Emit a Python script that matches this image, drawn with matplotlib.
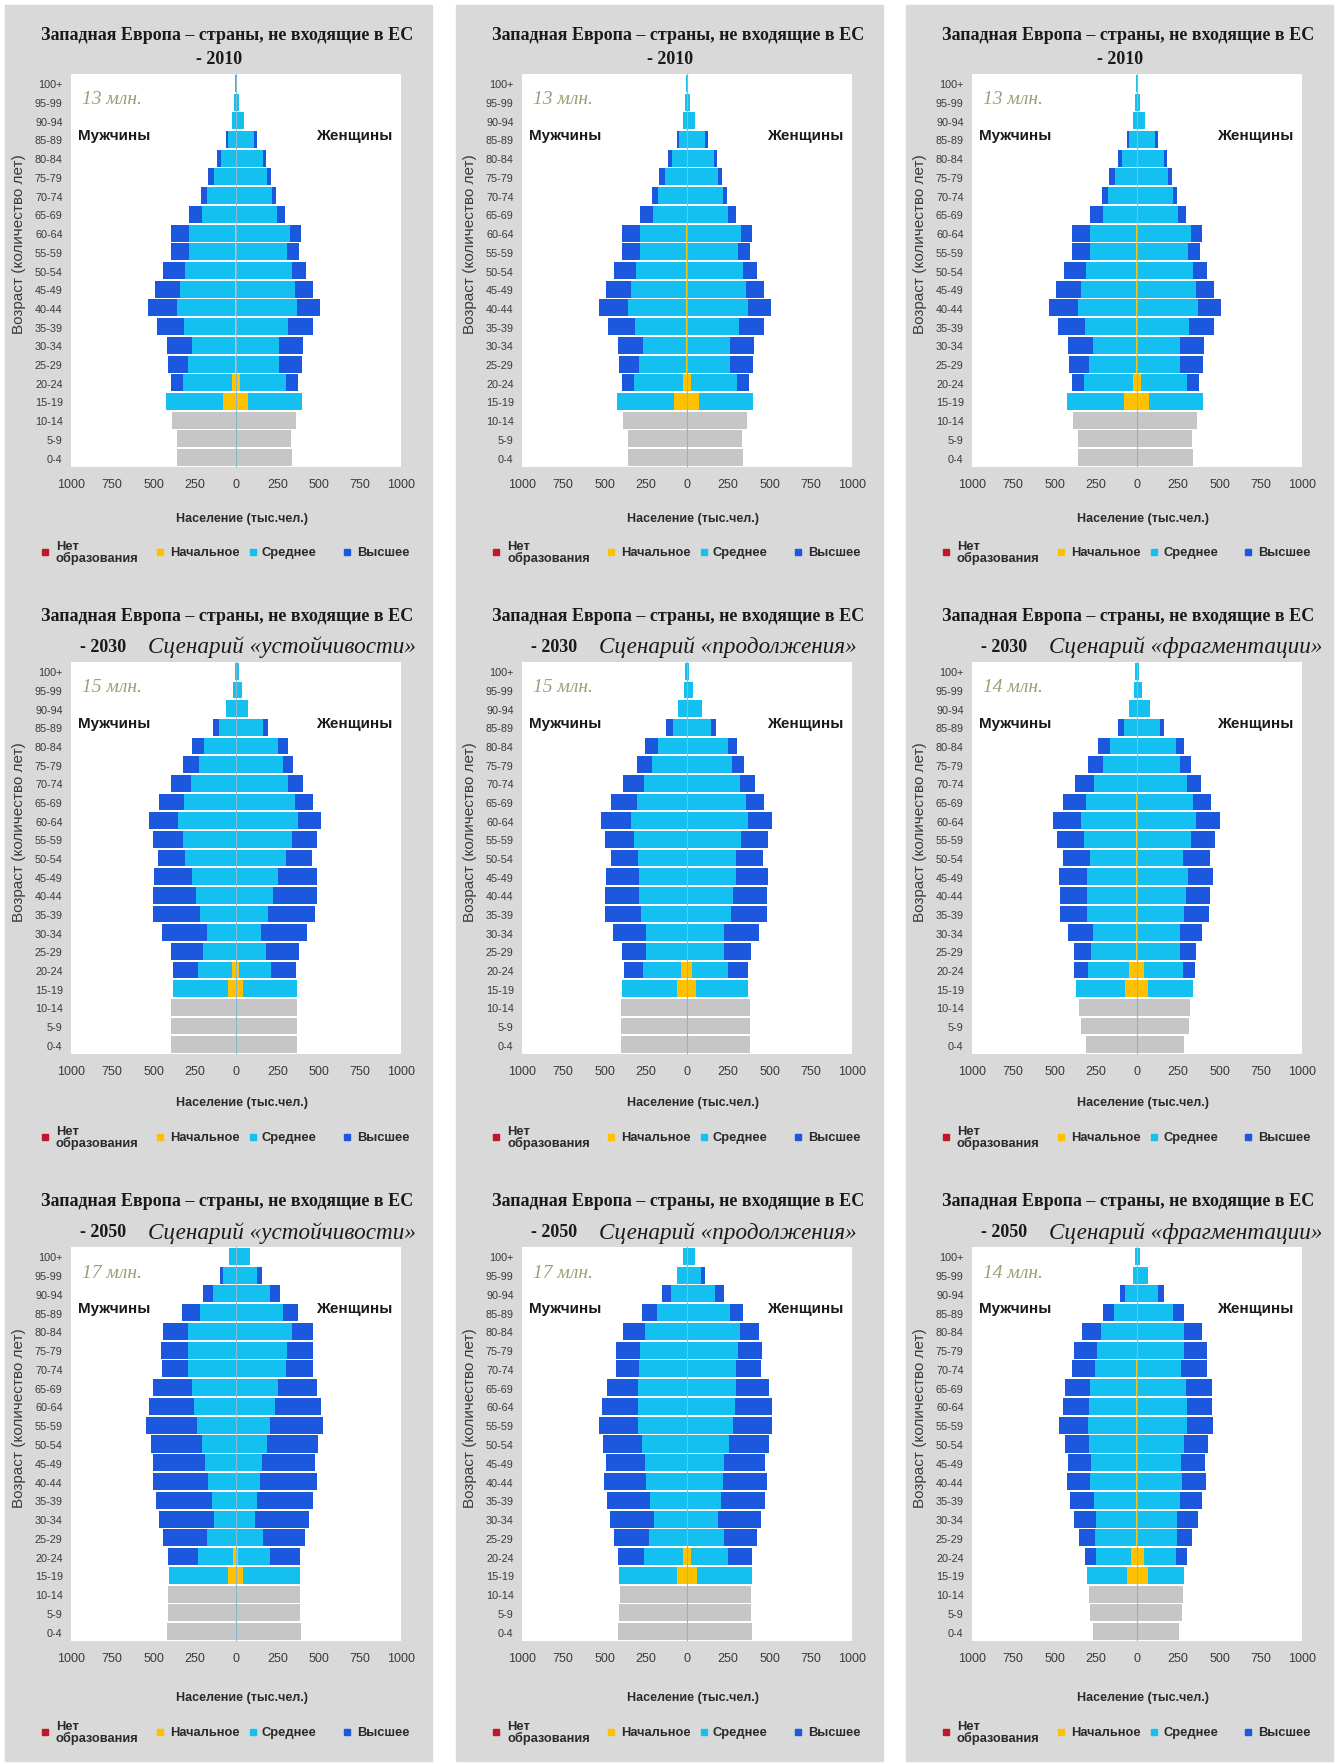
import matplotlib
matplotlib.use("Agg")
import matplotlib.pyplot as plt
from matplotlib.patches import Rectangle
import numpy as np

plt.rcParams['font.family'] = ['Liberation Sans', 'DejaVu Sans']

# age groups, bottom to top
ages = ['0-4', '5-9', '10-14', '15-19', '20-24', '25-29', '30-34', '35-39', '40-44',
        '45-49', '50-54', '55-59', '60-64', '65-69', '70-74', '75-79', '80-84',
        '85-89', '90-94', '95-99', '100+']

# adult arrays run 15-19 ... 100+ ; kids arrays run 0-4, 5-9, 10-14 (thousands)
# ---- 2010 ----
m10_prim = [81, 26, 4, 4, 4, 4, 4, 4, 4, 4, 3, 2, 2, 2, 0, 0, 0, 0]
m10_sec = [345, 293, 285, 264, 311, 355, 335, 305, 279, 279, 205, 176, 130, 91, 47, 22, 10, 6]
m10_high = [0, 77, 125, 152, 166, 172, 152, 135, 113, 113, 77, 34, 36, 20, 16, 0, 0, 0]
f10_prim = [75, 24, 4, 4, 4, 4, 4, 4, 4, 4, 3, 2, 2, 2, 0, 0, 0, 0]
f10_sec = [323, 279, 259, 259, 309, 364, 354, 333, 307, 323, 248, 214, 184, 160, 111, 50, 16, 8]
f10_high = [0, 75, 135, 145, 156, 141, 111, 87, 73, 67, 46, 26, 26, 20, 14, 0, 0, 0]
m10_kids = [360, 360, 386]
f10_kids = [337, 333, 362]

# ---- 2030 sustainability ----
m30s_prim = [51, 22, 3, 3, 3, 3, 3, 3, 3, 3, 3, 3, 3, 2, 0, 0, 0, 0]
m30s_sec = [333, 206, 195, 175, 215, 239, 262, 306, 320, 346, 312, 272, 219, 192, 103, 61, 20, 8]
m30s_high = [0, 156, 198, 273, 283, 259, 232, 162, 178, 178, 152, 121, 97, 71, 38, 0, 0, 0]
f30s_prim = [40, 18, 3, 3, 3, 3, 3, 3, 3, 3, 3, 3, 3, 2, 0, 0, 0, 0]
f30s_sec = [328, 192, 177, 148, 193, 223, 254, 300, 334, 371, 355, 314, 279, 254, 166, 75, 34, 16]
f30s_high = [0, 152, 202, 277, 283, 267, 232, 160, 152, 139, 111, 91, 65, 61, 26, 0, 0, 0]
m30s_kids = [396, 396, 396]
f30s_kids = [368, 368, 368]

# ---- 2030 continuation ----
m30c_prim = [60, 34, 3, 3, 3, 3, 3, 3, 3, 3, 3, 3, 3, 2, 0, 0, 0, 0]
m30c_sec = [334, 235, 248, 247, 278, 288, 290, 294, 318, 338, 303, 260, 209, 174, 86, 53, 18, 10]
m30c_high = [0, 115, 143, 198, 216, 208, 196, 166, 178, 178, 154, 123, 93, 77, 44, 0, 0, 0]
f30c_prim = [57, 30, 3, 3, 3, 3, 3, 3, 3, 3, 3, 3, 3, 2, 0, 0, 0, 0]
f30c_sec = [313, 219, 219, 221, 262, 274, 292, 296, 326, 367, 353, 318, 271, 246, 148, 93, 36, 10]
f30c_high = [0, 121, 164, 210, 220, 210, 196, 162, 164, 145, 109, 89, 69, 53, 30, 0, 0, 0]
m30c_kids = [402, 402, 402]
f30c_kids = [380, 380, 380]

# ---- 2030 fragmentation ----
m30f_prim = [71, 46, 6, 4, 4, 4, 4, 4, 4, 4, 4, 3, 3, 2, 0, 0, 0, 0]
m30f_sec = [297, 253, 273, 262, 299, 299, 299, 282, 315, 335, 303, 260, 203, 163, 81, 46, 20, 10]
m30f_high = [0, 81, 101, 154, 162, 162, 168, 162, 166, 172, 143, 115, 91, 71, 36, 0, 0, 0]
f30f_prim = [65, 40, 6, 4, 4, 4, 4, 4, 4, 4, 4, 3, 3, 2, 0, 0, 0, 0]
f30f_sec = [274, 239, 257, 255, 278, 295, 303, 274, 324, 356, 333, 300, 259, 237, 142, 81, 30, 10]
f30f_high = [0, 75, 97, 135, 152, 145, 152, 166, 147, 141, 113, 87, 65, 44, 20, 0, 0, 0]
m30f_kids = [309, 337, 354]
f30f_kids = [283, 313, 323]

# ---- 2050 sustainability ----
m50s_prim = [51, 16, 3, 3, 3, 3, 3, 3, 3, 3, 3, 3, 3, 3, 3, 0, 0, 0]
m50s_sec = [353, 212, 174, 129, 145, 165, 185, 205, 235, 251, 262, 286, 286, 285, 215, 137, 81, 40]
m50s_high = [0, 186, 263, 335, 337, 337, 313, 307, 307, 271, 236, 162, 168, 152, 111, 65, 16, 0]
f50s_prim = [44, 14, 3, 3, 3, 3, 3, 3, 3, 3, 3, 3, 3, 3, 3, 0, 0, 0]
f50s_sec = [344, 192, 158, 112, 127, 143, 153, 183, 203, 233, 254, 300, 308, 335, 280, 206, 126, 85]
f50s_high = [0, 182, 257, 329, 335, 343, 323, 313, 319, 277, 236, 162, 158, 131, 95, 61, 30, 0]
m50s_kids = [416, 414, 410]
f50s_kids = [394, 388, 388]

# ---- 2050 continuation ----
m50c_prim = [61, 24, 3, 3, 3, 3, 3, 3, 3, 3, 3, 3, 3, 3, 3, 0, 0, 0]
m50c_sec = [353, 236, 229, 197, 219, 243, 250, 270, 294, 294, 294, 290, 284, 250, 177, 95, 61, 24]
m50c_high = [0, 158, 210, 265, 261, 257, 236, 236, 236, 216, 186, 139, 141, 135, 91, 57, 0, 0]
f50c_prim = [63, 26, 3, 3, 3, 3, 3, 3, 3, 3, 3, 3, 3, 3, 3, 0, 0, 0]
f50c_sec = [333, 223, 219, 185, 205, 215, 221, 252, 276, 286, 296, 296, 307, 316, 255, 167, 87, 51]
f50c_high = [0, 147, 202, 263, 263, 267, 251, 240, 238, 226, 196, 152, 147, 117, 81, 55, 20, 0]
m50c_kids = [418, 414, 408]
f50c_kids = [396, 390, 386]

# ---- 2050 fragmentation ----
m50f_prim = [61, 36, 8, 4, 4, 4, 4, 4, 4, 4, 4, 4, 3, 3, 3, 0, 0, 0]
m50f_sec = [244, 212, 247, 245, 259, 279, 275, 285, 291, 285, 278, 251, 242, 215, 134, 73, 26, 10]
m50f_high = [0, 67, 99, 131, 141, 143, 141, 147, 176, 162, 152, 141, 139, 117, 71, 28, 0, 0]
f50f_prim = [65, 40, 8, 4, 4, 4, 4, 4, 4, 4, 4, 4, 3, 3, 3, 0, 0, 0]
f50f_sec = [222, 198, 234, 239, 259, 267, 263, 279, 299, 300, 293, 262, 284, 284, 213, 126, 65, 20]
f50f_high = [0, 63, 89, 125, 129, 147, 145, 145, 156, 149, 156, 158, 137, 107, 67, 36, 0, 0]
m50f_kids = [269, 283, 293]
f50f_kids = [257, 271, 281]

title_main = 'Западная Европа – страны, не входящие в ЕС'
legend_labels = ['Нет\nобразования', 'Начальное', 'Среднее', 'Высшее']
xticks = [-1000, -750, -500, -250, 0, 250, 500, 750, 1000]

C_NONE = '#c0182a'
C_PRIM = '#ffc000'
C_SEC = '#14c0f0'
C_HIGH = '#1c58de'
C_KIDS = '#c6c6c6'
C_PANEL = '#d9d9d9'

W, H = 1338, 1765
fig = plt.figure(figsize=(W / 100, H / 100), dpi=100)
fig.patch.set_facecolor('white')


def fx(x):
    return x / W


def fy(y):
    return 1 - y / H


panel_left = [5, 456, 906]
panel_w = 427
for pl in panel_left:
    fig.patches.append(Rectangle((fx(pl), fy(1762)), panel_w / W, (1762 - 6) / H,
                                 transform=fig.transFigure, color=C_PANEL, zorder=-5))

# (top, bottom) of plot areas per row, in pixels
rows_y = [(75, 468), (663, 1055), (1248, 1642)]
title_y = [(35, 60), (617, 647), (1202, 1233)]
xlab_off = [51, 48, 56]
leg_off = [85, 83, 91]

panels = [
    [(m10_prim, m10_sec, m10_high, f10_prim, f10_sec, f10_high, m10_kids, f10_kids, '13', '2010', None)] * 3,
    [(m30s_prim, m30s_sec, m30s_high, f30s_prim, f30s_sec, f30s_high, m30s_kids, f30s_kids, '15', '2030', 'Сценарий «устойчивости»'),
     (m30c_prim, m30c_sec, m30c_high, f30c_prim, f30c_sec, f30c_high, m30c_kids, f30c_kids, '15', '2030', 'Сценарий «продолжения»'),
     (m30f_prim, m30f_sec, m30f_high, f30f_prim, f30f_sec, f30f_high, m30f_kids, f30f_kids, '14', '2030', 'Сценарий «фрагментации»')],
    [(m50s_prim, m50s_sec, m50s_high, f50s_prim, f50s_sec, f50s_high, m50s_kids, f50s_kids, '17', '2050', 'Сценарий «устойчивости»'),
     (m50c_prim, m50c_sec, m50c_high, f50c_prim, f50c_sec, f50c_high, m50c_kids, f50c_kids, '17', '2050', 'Сценарий «продолжения»'),
     (m50f_prim, m50f_sec, m50f_high, f50f_prim, f50f_sec, f50f_high, m50f_kids, f50f_kids, '14', '2050', 'Сценарий «фрагментации»')],
]

y_kids = np.arange(3)
y_ad = np.arange(3, 21)
bh = 0.91

for r in range(3):
    top, bot = rows_y[r]
    for c in range(3):
        mp, ms, mh, fp, fs, fh, mk, fk, total, year, scen = panels[r][c]
        pl = panel_left[c]
        left = pl + 66
        ax = fig.add_axes([fx(left), fy(bot), 330 / W, (bot - top) / H])
        ax.set_facecolor('white')

        mp, ms, mh = np.array(mp), np.array(ms), np.array(mh)
        fp, fs, fh = np.array(fp), np.array(fs), np.array(fh)
        ax.barh(y_kids, -np.array(mk), height=bh, color=C_KIDS, lw=0)
        ax.barh(y_kids, fk, height=bh, color=C_KIDS, lw=0)
        ax.barh(y_ad, -mp, height=bh, color=C_PRIM, lw=0)
        ax.barh(y_ad, -ms, left=-mp, height=bh, color=C_SEC, lw=0)
        ax.barh(y_ad, -mh, left=-(mp + ms), height=bh, color=C_HIGH, lw=0)
        ax.barh(y_ad, fp, height=bh, color=C_PRIM, lw=0)
        ax.barh(y_ad, fs, left=fp, height=bh, color=C_SEC, lw=0)
        ax.barh(y_ad, fh, left=fp + fs, height=bh, color=C_HIGH, lw=0)
        ax.axvline(0, color='#86b9cf', lw=0.8, zorder=1)

        ax.set_xlim(-1000, 1000)
        ax.set_ylim(-0.5, 20.5)
        ax.set_xticks(xticks)
        ax.set_xticklabels([str(abs(t)) for t in xticks])
        ax.set_yticks(np.arange(21))
        ax.set_yticklabels(ages)
        ax.tick_params(axis='x', length=0, labelsize=9, colors='#3a3a3a', pad=8)
        ax.tick_params(axis='y', length=0, labelsize=7.8, colors='#3a3a3a', pad=6)
        for s in ax.spines.values():
            s.set_visible(False)

        ax.text(11 / 330, 1 - 25 / (bot - top), total + ' млн.', transform=ax.transAxes,
                fontsize=14, family='Liberation Serif', style='italic', color='#a09c78',
                va='center', ha='left')
        ax.text(7 / 330, 1 - 61 / (bot - top), 'Мужчины', transform=ax.transAxes,
                fontsize=11, fontweight='bold', va='center', ha='left', color='#1a1a1a')
        ax.text(1 - 9 / 330, 1 - 61 / (bot - top), 'Женщины', transform=ax.transAxes,
                fontsize=11, fontweight='bold', va='center', ha='right', color='#1a1a1a')

        fig.text(fx(left - 52), fy((top + bot) / 2 - 27), 'Возраст (количество лет)', rotation=90,
                 fontsize=11, color='#3a3a3a', ha='center', va='center')
        fig.text(fx(left + 171), fy(bot + xlab_off[r]), 'Население (тыс.чел.)',
                 fontsize=9, fontweight='bold', color='#2a2a2a', ha='center', va='center')

        # titles
        t1, t2 = title_y[r]
        fig.text(fx(pl + 222), fy(t1), title_main, family='Liberation Serif',
                 fontweight='bold', fontsize=13, ha='center', va='center', color='#1a1a1a')
        if scen is None:
            fig.text(fx(pl + 214), fy(t2), '- ' + year, family='Liberation Serif',
                     fontweight='bold', fontsize=13, ha='center', va='center', color='#1a1a1a')
        else:
            fig.text(fx(pl + 75), fy(t2), '- ' + year, family='Liberation Serif',
                     fontweight='bold', fontsize=13, ha='left', va='center', color='#1a1a1a')
            fig.text(fx(pl + 143), fy(t2), scen, family='Liberation Serif',
                     style='italic', fontsize=16.7, ha='left', va='center', color='#1a1a1a')

        # legend
        ly = bot + leg_off[r]
        for mx, tx, col, lab in zip([40, 155, 248, 342], [51, 165, 257, 352],
                                    [C_NONE, C_PRIM, C_SEC, C_HIGH], legend_labels):
            fig.patches.append(Rectangle((fx(pl + mx - 3), fy(ly + 3)), 6 / W, 6 / H,
                                         transform=fig.transFigure, color=col, zorder=2))
            fig.text(fx(pl + tx), fy(ly), lab, fontsize=9.3, fontweight='bold',
                     color='#2a2a2a', ha='left', va='center', linespacing=0.9)

fig.savefig('out.png', dpi=100)
